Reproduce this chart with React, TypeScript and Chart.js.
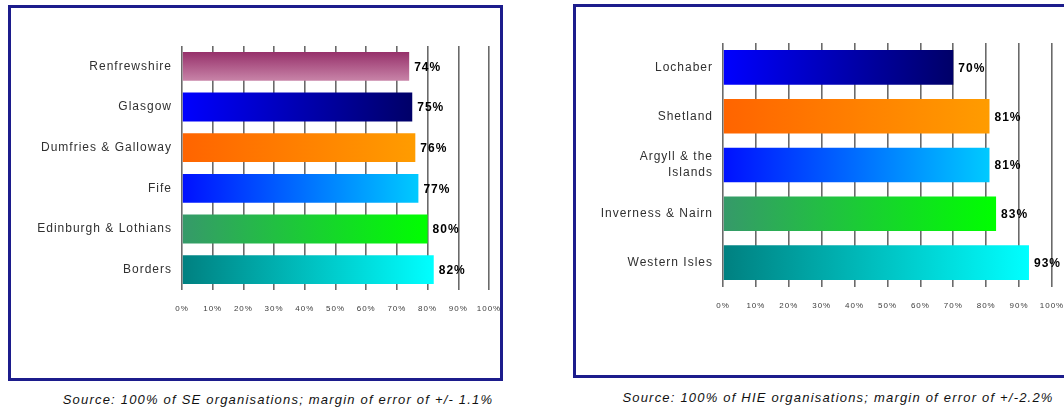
import React, { useEffect, useRef } from 'react';
import { Chart, registerables } from 'chart.js';

Chart.register(...registerables);

// ---- data ----
const seCategories: (string | string[])[] = [
  'Renfrewshire',
  'Glasgow',
  'Dumfries & Galloway',
  'Fife',
  'Edinburgh & Lothians',
  'Borders',
];
const seValues = [74, 75, 76, 77, 80, 82];
const seSource = 'Source: 100% of SE organisations; margin of error of +/- 1.1%';

const hieCategories: (string | string[])[] = [
  'Lochaber',
  'Shetland',
  ['Argyll & the', 'Islands'],
  'Inverness & Nairn',
  'Western Isles',
];
const hieValues = [70, 81, 81, 83, 93];
const hieSource = 'Source: 100% of HIE organisations; margin of error of +/-2.2%';

// axis range in percent
const axisMin = 0;
const axisMax = 100;
const axisStep = 10;

// ---- styles ----
type Fill = { dir: 'h' | 'v'; from: string; to: string };
const NAVY: Fill = { dir: 'h', from: '#0000ff', to: '#000068' };
const ORANGE: Fill = { dir: 'h', from: '#ff6400', to: '#ff9c00' };
const SKY: Fill = { dir: 'h', from: '#0010ff', to: '#00caff' };
const GREEN: Fill = { dir: 'h', from: '#36996a', to: '#00ff00' };
const TEAL: Fill = { dir: 'h', from: '#008080', to: '#00ffff' };
const PLUM: Fill = { dir: 'v', from: '#96306a', to: '#c884a8' };

const seFills: Fill[] = [PLUM, NAVY, ORANGE, SKY, GREEN, TEAL];
const hieFills: Fill[] = [NAVY, ORANGE, SKY, GREEN, TEAL];

const FONT = '"Liberation Sans", Arial, Helvetica, sans-serif';
const BAR_PCT = 0.71;

type Layout = {
  left: number;
  top: number;
  width: number;
  height: number;
  areaLeft: number;
  areaRight: number;
  areaTop: number;
  areaBottom: number;
};

const seLayout: Layout = {
  left: 0, top: 0, width: 520, height: 330,
  areaLeft: 182, areaRight: 489, areaTop: 46, areaBottom: 290,
};
const hieLayout: Layout = {
  left: 560, top: 0, width: 520, height: 330,
  areaLeft: 163, areaRight: 492, areaTop: 43, areaBottom: 287,
};

// keeps the slightly spaced-out lettering on every canvas text
const spacingPlugin = {
  id: 'letterSpacing',
  beforeUpdate(chart: any) {
    chart.ctx.letterSpacing = '1px';
  },
  beforeDraw(chart: any) {
    chart.ctx.letterSpacing = '1px';
  },
};

// writes each bar's percentage just past its end
const valueLabelPlugin = {
  id: 'valueLabels',
  afterDatasetsDraw(chart: any) {
    const c = chart.ctx as CanvasRenderingContext2D;
    const meta = chart.getDatasetMeta(0);
    const vals = chart.data.datasets[0].data as number[];
    c.save();
    c.font = `bold 12px ${FONT}`;
    c.fillStyle = '#000';
    c.textAlign = 'left';
    c.textBaseline = 'middle';
    meta.data.forEach((el: any, i: number) => {
      c.fillText(`${vals[i]}%`, el.x + 5, el.y + 1);
    });
    c.restore();
  },
};

function makeFill(fills: Fill[], count: number) {
  return (ctx: any) => {
    const chart = ctx.chart;
    const area = chart.chartArea;
    const f = fills[ctx.dataIndex ?? 0] ?? fills[0];
    if (!area || ctx.type !== 'data') return f.from;
    const xs = chart.scales.x;
    const ys = chart.scales.y;
    const v = ctx.raw as number;
    let g: CanvasGradient;
    if (f.dir === 'h') {
      g = chart.ctx.createLinearGradient(xs.getPixelForValue(axisMin), 0, xs.getPixelForValue(v), 0);
    } else {
      const yc = ys.getPixelForValue(ctx.dataIndex);
      const half = ((area.bottom - area.top) / count) * BAR_PCT / 2;
      g = chart.ctx.createLinearGradient(0, yc - half, 0, yc + half);
    }
    g.addColorStop(0, f.from);
    g.addColorStop(1, f.to);
    return g;
  };
}

function BarPanel(props: {
  labels: (string | string[])[];
  values: number[];
  fills: Fill[];
  layout: Layout;
}) {
  const ref = useRef<HTMLCanvasElement>(null);
  const { labels, values, fills, layout } = props;

  useEffect(() => {
    if (!ref.current) return;
    const chart = new Chart(ref.current, {
      type: 'bar',
      data: {
        labels,
        datasets: [
          {
            data: values,
            backgroundColor: makeFill(fills, labels.length) as any,
            borderWidth: 0,
            barPercentage: BAR_PCT,
            categoryPercentage: 1,
          },
        ],
      },
      options: {
        indexAxis: 'y',
        animation: false,
        responsive: false,
        maintainAspectRatio: false,
        events: [],
        layout: {
          padding: {
            left: 0,
            top: layout.areaTop,
            right: layout.width - layout.areaRight,
            bottom: 0,
          },
        },
        plugins: {
          legend: { display: false },
          tooltip: { enabled: false },
        },
        scales: {
          x: {
            min: axisMin,
            max: axisMax,
            ticks: {
              stepSize: axisStep,
              autoSkip: false,
              maxRotation: 0,
              padding: 14,
              color: '#3c3c3c',
              font: { size: 8, family: FONT },
              callback: (v: any) => `${v}%`,
            },
            grid: { color: '#6a6a6a', lineWidth: 1.6, drawTicks: false },
            border: { display: false },
            afterFit: (s: any) => {
              s.height = layout.height - layout.areaBottom;
            },
          },
          y: {
            ticks: {
              autoSkip: false,
              padding: 10,
              color: '#303030',
              font: { size: 12, family: FONT, lineHeight: 1.35 },
            },
            grid: { display: false, drawTicks: false },
            border: { display: false },
            afterFit: (s: any) => {
              s.width = layout.areaLeft;
            },
          },
        },
      } as any,
      plugins: [spacingPlugin, valueLabelPlugin],
    });
    return () => chart.destroy();
  }, []);

  return (
    <canvas
      ref={ref}
      width={layout.width}
      height={layout.height}
      style={{ position: 'absolute', left: layout.left, top: layout.top, width: layout.width, height: layout.height }}
    />
  );
}

const frameStyle = (left: number, top: number, width: number, height: number): React.CSSProperties => ({
  position: 'absolute',
  left,
  top,
  width,
  height,
  boxSizing: 'border-box',
  border: '3px solid #1c1c8c',
  background: '#fff',
});

const sourceStyle = (center: number, top: number): React.CSSProperties => ({
  position: 'absolute',
  left: center - 300,
  width: 600,
  top,
  textAlign: 'center',
  fontFamily: FONT,
  fontStyle: 'italic',
  fontSize: 13,
  letterSpacing: '1.2px',
  lineHeight: '16px',
  color: '#111',
  whiteSpace: 'nowrap',
});

export default function App() {
  return (
    <div
      style={{
        position: 'fixed',
        left: 0,
        top: 0,
        width: 1064,
        height: 409,
        overflow: 'hidden',
        background: '#fff',
      }}
    >
      <div style={frameStyle(8, 5, 495, 376)} />
      <div style={frameStyle(573, 4, 600, 374)} />
      <BarPanel labels={seCategories} values={seValues} fills={seFills} layout={seLayout} />
      <BarPanel labels={hieCategories} values={hieValues} fills={hieFills} layout={hieLayout} />
      <div style={sourceStyle(278, 392)}>{seSource}</div>
      <div style={sourceStyle(838, 390)}>{hieSource}</div>
    </div>
  );
}
